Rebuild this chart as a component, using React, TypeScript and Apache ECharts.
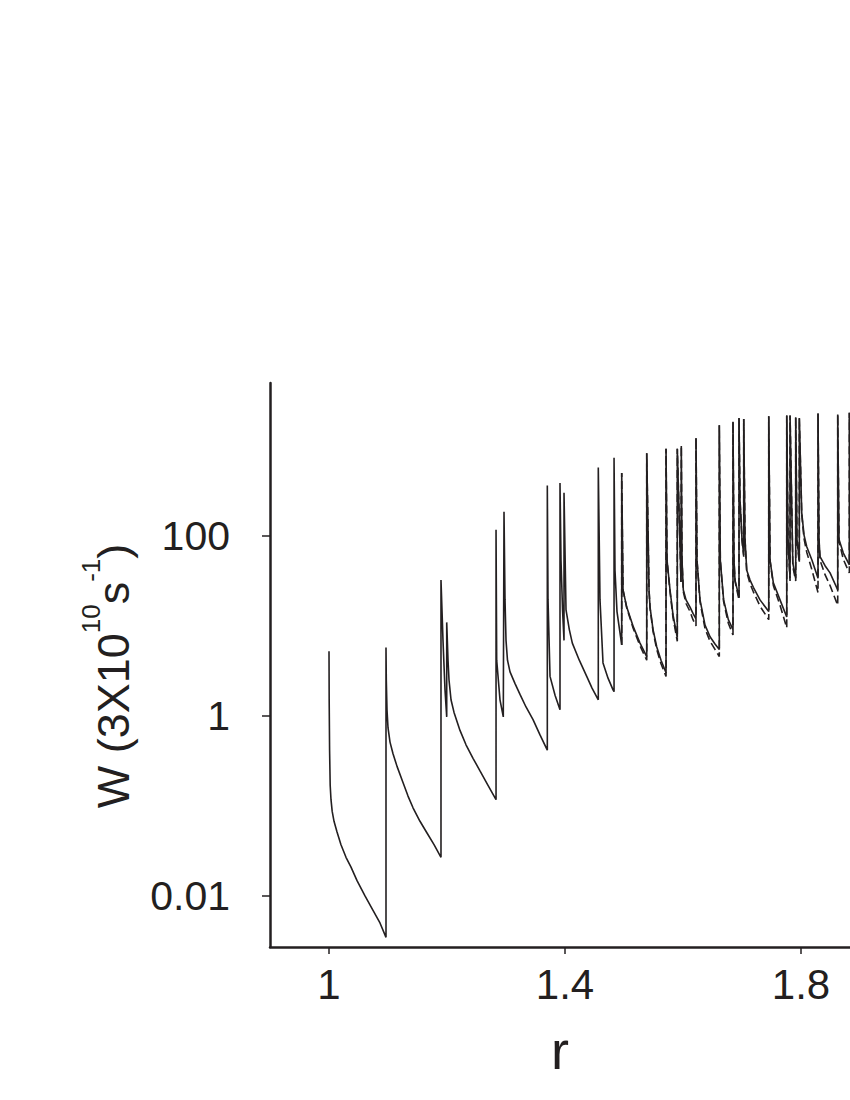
import React, { useEffect, useRef } from "react";
import * as echarts from "echarts";

// r (x) and log10 W (y); W in units of 3x10^10 s^-1
const solidCurve: [number, number][] = [
  [1.0, 0.72], [1.0003, 0.18], [1.001, -0.38], [1.002, -0.77], [1.0034, -0.93], [1.0054, -1.06],
  [1.0085, -1.17], [1.0136, -1.29], [1.0203, -1.43], [1.0288, -1.57], [1.0373, -1.68], [1.0475, -1.83],
  [1.061, -2.0], [1.0746, -2.16], [1.0864, -2.3], [1.0966, -2.46],
  [1.0966, 0.76], [1.0971, 0.4], [1.0983, 0.07], [1.1, -0.13], [1.1034, -0.29], [1.1085, -0.42],
  [1.1153, -0.56], [1.1254, -0.74], [1.1339, -0.89], [1.1424, -1.02], [1.1542, -1.17], [1.1661, -1.3],
  [1.178, -1.43], [1.1898, -1.57],
  [1.1898, 1.51], [1.1932, 0.84], [1.1966, 0.29], [1.1995, -0.01],
  [1.1995, 1.04], [1.2017, 0.62], [1.2034, 0.4], [1.2068, 0.18], [1.2119, 0.04], [1.222, -0.16],
  [1.2322, -0.32], [1.2441, -0.47], [1.2559, -0.61], [1.2695, -0.77], [1.2831, -0.93],
  [1.2831, 2.07], [1.2842, 0.62], [1.2898, 0.18], [1.2954, -0.01],
  [1.2966, 2.27], [1.2983, 1.29], [1.3, 0.84], [1.3025, 0.62], [1.3068, 0.49], [1.3153, 0.36],
  [1.3237, 0.24], [1.3339, 0.1], [1.3458, -0.04], [1.3576, -0.21], [1.37, -0.38],
  [1.37, 2.56], [1.3712, 1.29], [1.3746, 0.44], [1.3831, 0.23], [1.3915, 0.07],
  [1.3915, 2.59], [1.3932, 1.73], [1.3958, 1.18], [1.3983, 0.84],
  [1.3983, 2.48], [1.4017, 1.18], [1.4073, 0.96], [1.4124, 0.81], [1.4242, 0.62], [1.4368, 0.44],
  [1.4458, 0.31], [1.4564, 0.18],
  [1.4564, 2.76], [1.4593, 1.29], [1.4644, 0.59], [1.4729, 0.42], [1.4814, 0.29],
  [1.4831, 0.27], [1.4831, 2.87], [1.4847, 1.62], [1.4881, 1.16], [1.4924, 0.96], [1.4961, 0.79],
  [1.4961, 2.7], [1.4983, 1.4], [1.5046, 1.21], [1.5158, 0.99], [1.5271, 0.81], [1.5385, 0.66],
  [1.5385, 2.92], [1.5424, 1.4], [1.5441, 1.21], [1.5492, 0.96], [1.5554, 0.77], [1.5627, 0.62], [1.5712, 0.48],
  [1.5712, 2.97], [1.5729, 1.73], [1.578, 1.4], [1.5831, 1.12], [1.5903, 0.87],
  [1.5903, 2.97], [1.5966, 1.49],
  [1.5971, 3.0], [1.5983, 1.73], [1.6005, 1.4], [1.6051, 1.29], [1.6119, 1.21], [1.6169, 1.14], [1.622, 1.08],
  [1.622, 3.09], [1.6237, 1.73], [1.6288, 1.29], [1.6373, 1.01], [1.6458, 0.88], [1.6542, 0.8], [1.6615, 0.74],
  [1.6615, 3.23], [1.6632, 1.73], [1.6688, 1.29], [1.6768, 1.07], [1.6847, 0.96],
  [1.6847, 3.27], [1.6864, 1.73], [1.6881, 1.51], [1.6949, 1.32],
  [1.6949, 3.31], [1.6966, 2.4], [1.7, 1.96], [1.7029, 1.79],
  [1.7029, 3.3], [1.7051, 1.96], [1.708, 1.62], [1.7136, 1.51], [1.7192, 1.43], [1.7305, 1.29], [1.7453, 1.16],
  [1.7453, 3.33], [1.7475, 1.73], [1.7531, 1.48], [1.7644, 1.29], [1.7758, 1.1],
  [1.7758, 3.34], [1.778, 1.96], [1.7814, 1.53],
  [1.7814, 3.34], [1.7861, 1.7], [1.791, 1.53],
  [1.791, 3.32], [1.7932, 1.96], [1.7971, 1.73],
  [1.7971, 3.31], [1.8012, 2.26], [1.8051, 2.01], [1.8097, 1.88], [1.8186, 1.73], [1.8288, 1.53],
  [1.8288, 3.36], [1.8305, 1.96], [1.8322, 1.77], [1.8407, 1.67], [1.8492, 1.59], [1.8622, 1.4],
  [1.8622, 3.35], [1.8644, 1.96], [1.8717, 1.81], [1.8819, 1.68],
  [1.8819, 3.37], [1.885, 2.2],
];

const dashedCurve: [number, number][] = [
  [1.4961, 0.79], [1.4961, 2.7], [1.4983, 1.4], [1.5046, 1.2], [1.5158, 0.97], [1.5271, 0.78], [1.5385, 0.62],
  [1.5385, 2.92], [1.5424, 1.4], [1.5441, 1.2], [1.5492, 0.94], [1.5554, 0.74], [1.5627, 0.58], [1.5712, 0.44],
  [1.5712, 2.97], [1.5729, 1.73], [1.578, 1.38], [1.5831, 1.09], [1.5903, 0.83],
  [1.5903, 2.97], [1.5966, 1.49],
  [1.5971, 3.0], [1.5983, 1.73], [1.6005, 1.38], [1.6051, 1.25], [1.6119, 1.16], [1.6169, 1.07], [1.622, 1.0],
  [1.622, 3.09], [1.6237, 1.73], [1.6288, 1.27], [1.6373, 0.97], [1.6458, 0.83], [1.6542, 0.74], [1.6615, 0.66],
  [1.6615, 3.23], [1.6632, 1.73], [1.6688, 1.27], [1.6768, 1.03], [1.6847, 0.9],
  [1.6847, 3.27], [1.6864, 1.73], [1.6881, 1.5], [1.6949, 1.29],
  [1.6949, 3.31], [1.6966, 2.4], [1.7, 1.95], [1.7029, 1.77],
  [1.7029, 3.3], [1.7051, 1.95], [1.708, 1.6], [1.7136, 1.47], [1.7192, 1.38], [1.7305, 1.22], [1.7453, 1.07],
  [1.7453, 3.33], [1.7475, 1.73], [1.7531, 1.45], [1.7644, 1.23], [1.7758, 0.98],
  [1.7758, 3.34], [1.778, 1.94], [1.7814, 1.5],
  [1.7814, 3.34], [1.7861, 1.66], [1.791, 1.5],
  [1.791, 3.32], [1.7932, 1.94], [1.7971, 1.7],
  [1.7971, 3.31], [1.8012, 2.24], [1.8051, 1.97], [1.8097, 1.82], [1.8186, 1.62], [1.8288, 1.37],
  [1.8288, 3.36], [1.8305, 1.94], [1.8322, 1.73], [1.8407, 1.57], [1.8492, 1.45], [1.8622, 1.23],
  [1.8622, 3.35], [1.8644, 1.94], [1.8717, 1.74], [1.8819, 1.59],
  [1.8819, 3.37], [1.885, 2.1],
];

const xTickValues = [1, 1.4, 1.8];
const yTickLabels = [0.01, 1, 100];

const FONT = '"Liberation Sans", Arial, Helvetica, sans-serif';
const INK = "#231f20";

export default function App() {
  const ref = useRef<HTMLDivElement>(null);
  useEffect(() => {
    if (!ref.current) return;
    const chart = echarts.init(ref.current, null, { renderer: "svg" });
    const yTickPos = yTickLabels.map((v) => Math.log10(v));
    chart.setOption({
      animation: false,
      backgroundColor: "#ffffff",
      grid: { left: 270, top: 383, right: 0, bottom: 153 },
      xAxis: {
        type: "value",
        min: 0.9,
        max: 1.883,
        name: "r",
        nameLocation: "middle",
        nameGap: 76,
        nameTextStyle: { fontFamily: FONT, fontSize: 54, color: INK },
        axisLine: { show: true, onZero: false, lineStyle: { color: INK, width: 2.5 } },
        axisTick: { show: true, customValues: xTickValues, length: 7, lineStyle: { color: INK, width: 1.5 } },
        axisLabel: {
          customValues: xTickValues,
          fontFamily: FONT,
          fontSize: 42,
          color: INK,
          margin: 16,
          formatter: (v: number) => String(v),
        },
        splitLine: { show: false },
      },
      yAxis: {
        type: "value",
        min: -2.567,
        max: 3.7,
        name: "{a|W (3X10}{s|10}{a|s}{s|-1}{a|)}",
        nameLocation: "middle",
        nameRotate: 90,
        nameGap: 122,
        nameTextStyle: {
          fontFamily: FONT,
          color: INK,
          padding: [0, 22, 0, 0],
          rich: {
            a: { fontFamily: FONT, fontSize: 45, color: INK, lineHeight: 70 },
            s: { fontFamily: FONT, fontSize: 26, color: INK, lineHeight: 26, verticalAlign: "top" },
          },
        },
        axisLine: { show: true, onZero: false, lineStyle: { color: INK, width: 2.5 } },
        axisTick: { show: true, customValues: yTickPos, length: 8, lineStyle: { color: INK, width: 1.5 } },
        axisLabel: {
          customValues: yTickPos,
          fontFamily: FONT,
          fontSize: 41,
          color: INK,
          margin: 40,
          formatter: (v: number) => {
            const i = yTickPos.findIndex((p) => Math.abs(p - v) < 1e-6);
            return i >= 0 ? String(yTickLabels[i]) : "";
          },
        },
        splitLine: { show: false },
      },
      series: [
        {
          type: "line",
          data: solidCurve,
          showSymbol: false,
          symbol: "none",
          lineStyle: { color: INK, width: 1.6 },
          clip: true,
          z: 3,
        },
        {
          type: "line",
          data: dashedCurve,
          showSymbol: false,
          symbol: "none",
          lineStyle: { color: INK, width: 1.6, type: [8, 4] },
          clip: true,
          z: 2,
        },
      ],
    });
    return () => chart.dispose();
  }, []);
  return (
    <div
      ref={ref}
      style={{ position: "fixed", left: 0, top: 0, width: 850, height: 1100, background: "#fff" }}
    />
  );
}
